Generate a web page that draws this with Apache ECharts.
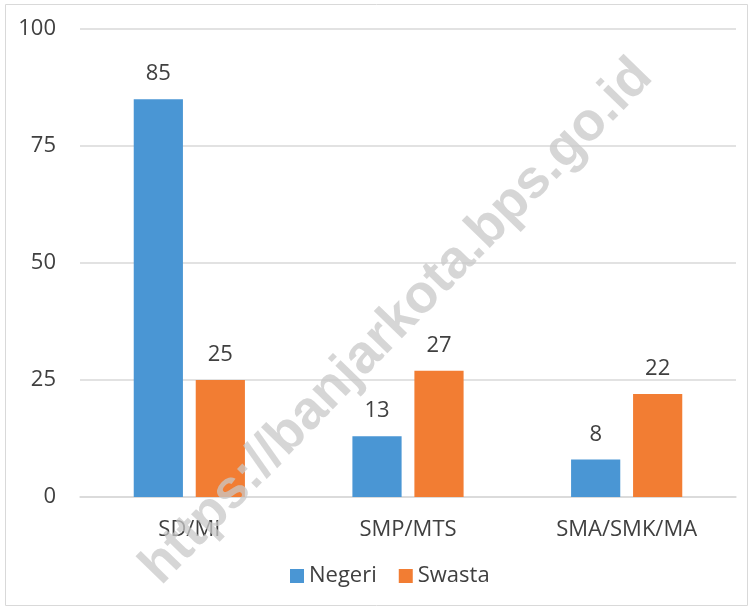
<!DOCTYPE html>
<html>
<head>
<meta charset="utf-8">
<script src="https://cdn.jsdelivr.net/npm/echarts@6/dist/echarts.min.js"></script>
<style>
html, body { margin: 0; padding: 0; background: #fff; }
#chart { width: 752px; height: 609px; }
</style>
</head>
<body>
<div id="chart"></div>
<script>
var categories = ["SD/MI", "SMP/MTS", "SMA/SMK/MA"];
var negeri = [85, 13, 8];
var swasta = [25, 27, 22];
var yTicks = [0, 25, 50, 75, 100];

var myChart = echarts.init(document.getElementById("chart"));
var font = "'Open Sans', 'DejaVu Sans', sans-serif";

var option = {
  animation: false,
  color: ["#4a96d4", "#f27d33"],
  graphic: [
    {
      type: "rect",
      shape: { x: 5.5, y: 4.5, width: 742, height: 601 },
      style: { fill: null, stroke: "#d9d9d9", lineWidth: 1 },
      z: -10
    },
    {
      type: "text",
      x: 397,
      y: 322,
      rotation: 0.8,
      style: {
        text: "https://banjarkota.bps.go.id",
        fill: "rgba(200,200,200,0.75)",
        font: "bold 54px 'Liberation Sans', Arial, sans-serif",
        align: "center",
        verticalAlign: "middle"
      },
      z: 100
    }
  ],
  grid: { left: 80, right: 16, top: 29, bottom: 112 },
  legend: {
    bottom: 17,
    left: 285,
    itemWidth: 14,
    itemHeight: 14,
    itemGap: 22,
    icon: "rect",
    textStyle: { color: "#404040", fontSize: 22, fontFamily: font },
    data: ["Negeri", "Swasta"]
  },
  xAxis: {
    type: "category",
    data: categories,
    axisTick: { show: false },
    axisLine: { lineStyle: { color: "#d9d9d9", width: 1.5 } },
    axisLabel: { color: "#404040", fontSize: 22, fontFamily: font, margin: 22 }
  },
  yAxis: {
    type: "value",
    min: yTicks[0],
    max: yTicks[yTicks.length - 1],
    interval: 25,
    axisLine: { show: false },
    axisTick: { show: false },
    splitLine: { lineStyle: { color: "#d9d9d9", width: 1.5 } },
    axisLabel: { color: "#404040", fontSize: 22, fontFamily: font, margin: 24 }
  },
  series: [
    {
      name: "Negeri",
      type: "bar",
      data: negeri,
      barWidth: "22.5%",
      barGap: "26%",
      label: { show: true, position: "top", distance: 14, color: "#404040", fontSize: 22, fontFamily: font }
    },
    {
      name: "Swasta",
      type: "bar",
      data: swasta,
      barWidth: "22.5%",
      barGap: "26%",
      label: { show: true, position: "top", distance: 14, color: "#404040", fontSize: 22, fontFamily: font }
    }
  ]
};
myChart.setOption(option, true);
</script>
</body>
</html>
